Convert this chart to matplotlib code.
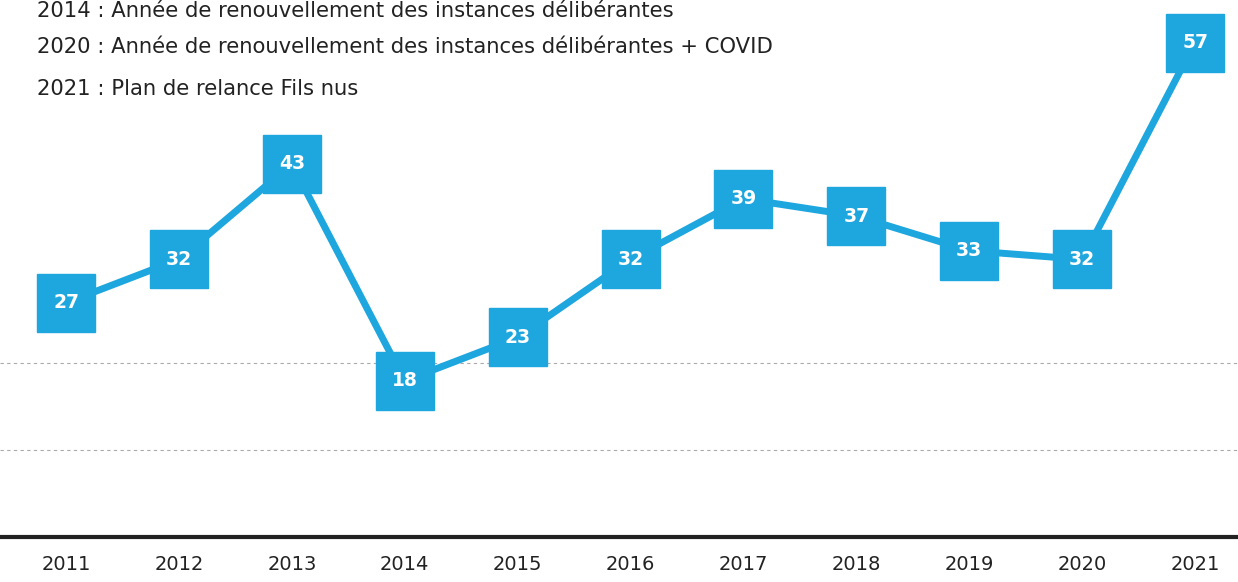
import numpy as np
import matplotlib.pyplot as plt

# Data
years = [2011, 2012, 2013, 2014, 2015, 2016, 2017, 2018, 2019, 2020, 2021]
values = [27, 32, 43, 18, 23, 32, 39, 37, 33, 32, 57]
notes = [
    "2014 : Année de renouvellement des instances délibérantes",
    "2020 : Année de renouvellement des instances délibérantes + COVID",
    "2021 : Plan de relance Fils nus",
]

blue = '#1ea6df'

fig = plt.figure(figsize=(12.38, 5.82), dpi=100)
ax = fig.add_axes([0, 45 / 582, 1, 537 / 582])

ax.plot(years, values, color=blue, linewidth=5, marker='s', markersize=42,
        markerfacecolor=blue, markeredgecolor=blue, zorder=3)
for x, v in zip(years, values):
    ax.text(x, v, str(v), color='white', fontsize=13.5, fontweight='bold',
            ha='center', va='center', zorder=4)

# faint dashed grid lines from the scan
for g in [10, 20]:
    ax.axhline(g, color='#aaaaaa', linewidth=0.8, linestyle=(0, (3, 3)), zorder=1)

ax.set_xlim(2010.415, 2021.38)
ax.set_ylim(0, 61.9)
ax.set_xticks(years)
ax.set_xticklabels([str(y) for y in years], fontsize=14, color='#222222')
ax.tick_params(axis='x', length=0, pad=13)
ax.set_yticks([])
for s in ['top', 'right', 'left']:
    ax.spines[s].set_visible(False)
ax.spines['bottom'].set_linewidth(3)
ax.spines['bottom'].set_color('#222222')

for i, t in enumerate(notes):
    y = 11 if i == 0 else 5 + 42 * i
    fig.text(37 / 1238, 1 - y / 582, t, fontsize=15.2, color='#222222',
             ha='left', va='center')

fig.savefig('out.png', dpi=100)
